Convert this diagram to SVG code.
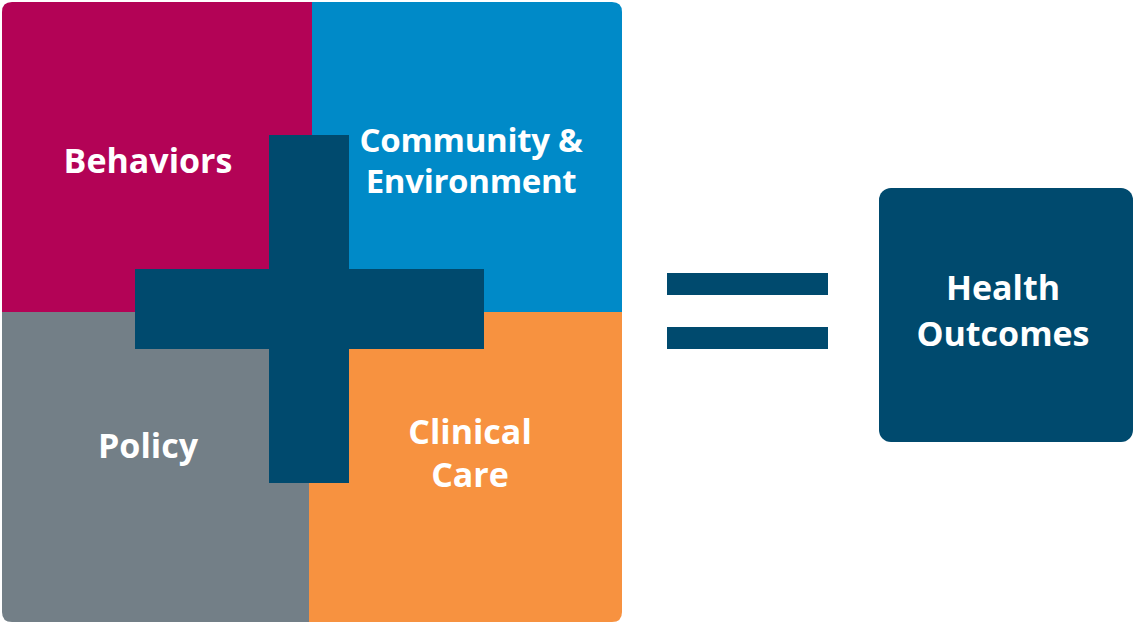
<svg xmlns="http://www.w3.org/2000/svg" width="1135" height="623" viewBox="0 0 1135 623">
<style>
.t{font-family:"Open Sans","Noto Sans","Liberation Sans",sans-serif;font-weight:700;font-size:34px;fill:#ffffff;text-anchor:middle}
.s{font-size:33px;letter-spacing:-0.3px}
.navy{fill:#004A6E}
</style>
<rect width="1135" height="623" fill="#ffffff"/>
<g id="behaviors">
<path d="M2,12 Q2,2 12,2 L312,2 L312,312 L2,312 Z" fill="#B30356"/>
<text class="t" x="148" y="173">Behaviors</text>
</g>
<g id="community">
<path d="M312,2 L612,2 Q622,2 622,12 L622,312 L312,312 Z" fill="#008AC8"/>
<text class="t s" x="471" y="152">Community &amp;</text>
<text class="t s" x="471" y="193">Environment</text>
</g>
<g id="policy">
<path d="M2,312 L309,312 L309,622 L12,622 Q2,622 2,612 Z" fill="#737F87"/>
<text class="t" x="148" y="458">Policy</text>
</g>
<g id="clinical">
<path d="M309,312 L622,312 L622,612 Q622,622 612,622 L309,622 Z" fill="#F79240"/>
<text class="t" x="470" y="444">Clinical</text>
<text class="t" x="470" y="487">Care</text>
</g>
<g id="plus">
<rect class="navy" x="269" y="135" width="80" height="348"/>
<rect class="navy" x="135" y="269" width="349" height="80"/>
</g>
<g id="equals">
<rect class="navy" x="667" y="273" width="161" height="22"/>
<rect class="navy" x="667" y="327" width="161" height="22"/>
</g>
<g id="health-outcomes">
<rect class="navy" x="879" y="188" width="254" height="254" rx="12"/>
<text class="t" x="1003" y="300">Health</text>
<text class="t" x="1003" y="346">Outcomes</text>
</g>
</svg>
